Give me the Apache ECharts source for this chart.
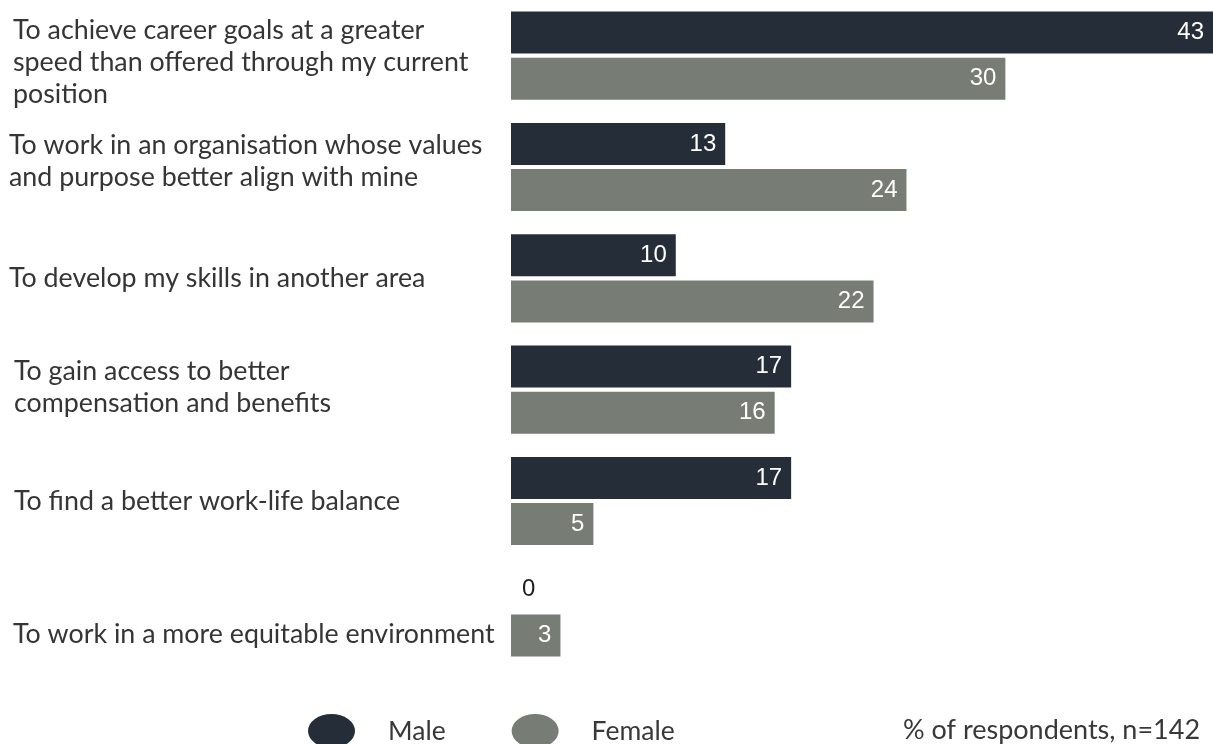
<!DOCTYPE html>
<html>
<head>
<meta charset="utf-8">
<style>
  html, body { margin: 0; padding: 0; background: #ffffff; }
  #chart { width: 1213px; height: 744px; }
</style>
<script src="https://cdn.jsdelivr.net/npm/echarts@6/dist/echarts.min.js"></script>
</head>
<body>
<div id="chart"></div>
<script>
// Reasons for considering a move, split by gender
const categories = [
  'To achieve career goals at a greater\nspeed than offered through my current\nposition',
  'To work in an organisation whose values\nand purpose better align with mine',
  'To develop my skills in another area',
  'To gain access to better\ncompensation and benefits',
  'To find a better work-life balance',
  'To work in a more equitable environment'
];
const maleValues = [43, 13, 10, 17, 17, 0];
const femaleValues = [30, 24, 22, 16, 5, 3];
const seriesNames = ['Male', 'Female'];
const noteText = '% of respondents, n=142';

const MALE_COLOR = '#252e38';
const FEMALE_COLOR = '#777c74';
const LABEL_COLOR = '#353535';
const TEXT_FONT = 'Lato, "Open Sans", sans-serif';
const TEXT_WEIGHT = 'normal';
const VALUE_FONT = '"Liberation Sans", Arial, sans-serif';
const LABEL_SIZE = 26.8;
const LABEL_LINE = 32;
const LABEL_BOX = 492;
const LABEL_LEFT = 9;

// per-label nudges: spacer line above, spacer line below, shift right
const labelNudge = [
  { above: 14, below: 0, right: 4 },
  { above: 0, below: 12, right: 0 },
  { above: 0, below: 0, right: 0 },
  { above: 0, below: 4, right: 5 },
  { above: 0, below: 0, right: 5 },
  { above: 44, below: 0, right: 4 }
];

// rich styles keep every label block left-aligned inside a fixed-width box
const rich = {};
labelNudge.forEach((n, i) => {
  rich['t' + i] = {
    fontFamily: TEXT_FONT, fontWeight: TEXT_WEIGHT, fontSize: LABEL_SIZE, lineHeight: LABEL_LINE,
    color: LABEL_COLOR, width: LABEL_BOX - n.right, padding: [0, 0, 0, n.right], align: 'left'
  };
  rich['a' + i] = { fontSize: 1, lineHeight: n.above, width: LABEL_BOX };
  rich['b' + i] = { fontSize: 1, lineHeight: n.below, width: LABEL_BOX };
});

function formatLabel(value, idx) {
  const n = labelNudge[idx];
  const lines = value.split('\n').map(line => '{t' + idx + '|' + line + '}');
  if (n.above) lines.unshift('{a' + idx + '| }');
  if (n.below) lines.push('{b' + idx + '| }');
  return lines.join('\n');
}

const chart = echarts.init(document.getElementById('chart'), null, { renderer: 'canvas' });

const valueLabel = {
  show: true,
  position: 'insideRight',
  distance: 9,
  color: '#ffffff',
  fontFamily: VALUE_FONT,
  fontSize: 24
};

const maleData = maleValues.map(v => v === 0
  ? { value: v, label: { position: 'right', distance: 11, color: '#1e1e1e' } }
  : v);

chart.setOption({
  animation: false,
  backgroundColor: '#ffffff',
  textStyle: { fontFamily: TEXT_FONT },
  title: {
    text: noteText,
    left: 898,
    top: 712,
    textStyle: { fontFamily: TEXT_FONT, fontWeight: TEXT_WEIGHT, fontSize: 27, color: '#383838' }
  },
  legend: {
    data: seriesNames,
    left: 308,
    top: 714,
    padding: 0,
    icon: 'path://M0,10A10,10,0,1,1,20,10A10,10,0,1,1,0,10Z',
    symbolKeepAspect: false,
    itemWidth: 47,
    itemHeight: 34,
    itemGap: 66,
    textStyle: { fontFamily: TEXT_FONT, fontWeight: TEXT_WEIGHT, fontSize: 26.5, color: '#383838', padding: [0, 0, 0, 28] }
  },
  // the plot runs to the right edge; the longest bar is cut there
  grid: { left: 511, right: 0, top: 0, height: 668, outerBoundsMode: 'none', containLabel: false },
  xAxis: {
    type: 'value',
    min: 0,
    max: 42.6,
    show: false
  },
  yAxis: {
    type: 'category',
    inverse: true,
    data: categories,
    axisLine: { show: false },
    axisTick: { show: false },
    axisLabel: {
      margin: 511 - LABEL_LEFT - LABEL_BOX,
      formatter: formatLabel,
      rich: rich
    }
  },
  series: [
    {
      name: seriesNames[0],
      type: 'bar',
      data: maleData,
      barWidth: 42,
      barGap: '10%',
      clip: true,
      itemStyle: { color: MALE_COLOR },
      label: valueLabel
    },
    {
      name: seriesNames[1],
      type: 'bar',
      data: femaleValues,
      barWidth: 42,
      clip: true,
      itemStyle: { color: FEMALE_COLOR },
      label: valueLabel
    }
  ]
});
</script>
</body>
</html>
